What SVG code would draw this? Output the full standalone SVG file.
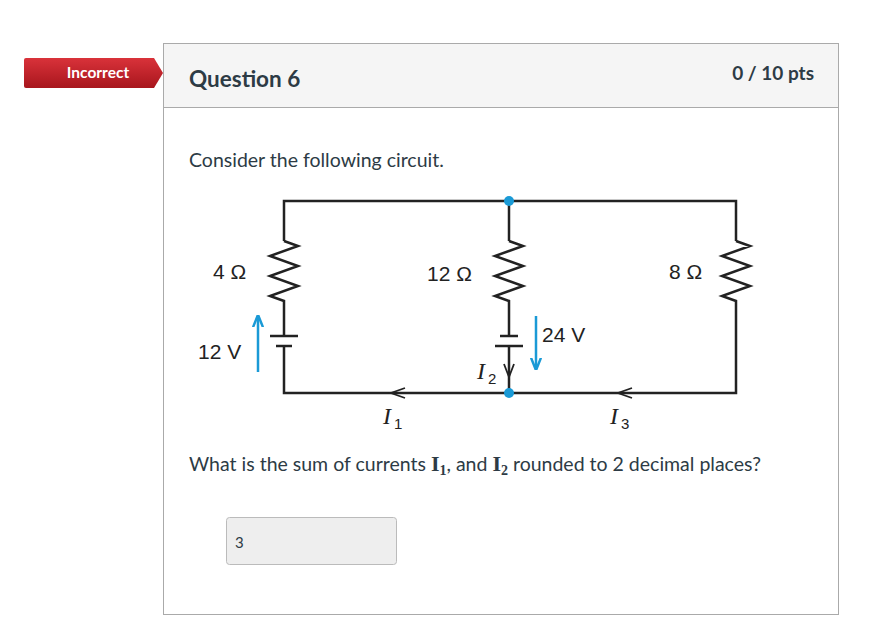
<svg xmlns="http://www.w3.org/2000/svg" width="890" height="632" viewBox="0 0 890 632">
<defs>
<linearGradient id="rg" x1="0" y1="0" x2="0" y2="1"><stop offset="0" stop-color="#d9323a"/><stop offset="1" stop-color="#a8161d"/></linearGradient>
<marker id="ba" viewBox="0 0 10 10" refX="9" refY="5" markerWidth="5" markerHeight="5" orient="auto"><path d="M0,1 L10,5 L0,9" fill="none" stroke="#1a9ad6" stroke-width="2"/></marker>
</defs>
<style>
.w{fill:none;stroke:#222;stroke-width:2.5;stroke-linejoin:miter}
.t{font-family:Lato,"Liberation Sans",sans-serif;fill:#2d3b45}
.c{font-family:"Liberation Sans",Arial,sans-serif;fill:#222;font-size:21px}
.i{font-family:"Liberation Serif",serif;font-style:italic;fill:#222;font-size:24px}
.s{font-family:"Liberation Sans",sans-serif;fill:#222;font-size:15px}
.b{stroke:#1a9ad6;stroke-width:2.5;fill:none}
</style>
<rect width="890" height="632" fill="#fff"/>
<g id="card">
<rect x="163.5" y="43.5" width="675" height="571" fill="#fff" stroke="#aaa"/>
<rect x="164" y="44" width="674" height="63" fill="#f5f5f5"/>
<line x1="163" y1="107.5" x2="839" y2="107.5" stroke="#aaa"/>
<text x="189" y="87" class="t" font-size="22.5" font-weight="bold">Question 6</text>
<text x="814" y="80" class="t" font-size="19" font-weight="bold" text-anchor="end">0 / 10 pts</text>
</g>
<g id="badge">
<path d="M26,58 H154 L163,73 L154,88 H26 Q24,88 24,86 V60 Q24,58 26,58 Z" fill="url(#rg)"/>
<text x="98" y="78" font-family="Lato,'Liberation Sans',sans-serif" font-size="15.5" font-weight="bold" fill="#fff" text-anchor="middle">Incorrect</text>
</g>
<text x="189" y="167" class="t" font-size="19.5">Consider the following circuit.</text>
<g id="connectors">
<path class="w" d="M284,241 V201 H736 V241"/>
<path class="w" d="M509,201 V241"/>
<path class="w" d="M284,241 l14,5 l-28,10 l28,10 l-28,10 l28,10 l-28,10 l14,5 V336"/>
<path class="w" d="M509,241 l14,5 l-28,10 l28,10 l-28,10 l28,10 l-28,10 l14,5 V336"/>
<path class="w" d="M736,241 l14,5 l-28,10 l28,10 l-28,10 l28,10 l-28,10 l14,5 V393 H284 V346"/>
<line class="w" x1="270" y1="336" x2="298" y2="336"/>
<line class="w" x1="276" y1="346" x2="292" y2="346"/>
<line class="w" x1="500" y1="336" x2="518" y2="336"/>
<line class="w" x1="495" y1="346" x2="523" y2="346"/>
<path class="w" d="M509,346 V393"/>
<path fill="none" stroke="#222" stroke-width="1.8" d="M504,364 L509,377 L514,364"/>
<path fill="none" stroke="#222" stroke-width="1.8" d="M405,388 L391,393 L405,398"/>
<path fill="none" stroke="#222" stroke-width="1.8" d="M632,388 L618,393 L632,398"/>
<line class="b" x1="258" y1="372" x2="258" y2="316" marker-end="url(#ba)"/>
<line class="b" x1="536" y1="316" x2="536" y2="369" marker-end="url(#ba)"/>
</g>
<g id="nodes">
<circle cx="509" cy="201" r="5" fill="#1a9ad6"/>
<circle cx="509" cy="393" r="5" fill="#1a9ad6"/>
</g>
<g id="labels">
<text x="213" y="279" class="c">4 Ω</text>
<text x="427" y="281" class="c">12 Ω</text>
<text x="669" y="279" class="c">8 Ω</text>
<text x="198" y="359" class="c">12 V</text>
<text x="542" y="342" class="c">24 V</text>
<text x="477" y="379" class="i">I</text><text x="488" y="384" class="s">2</text>
<text x="383" y="424" class="i">I</text><text x="394" y="429" class="s">1</text>
<text x="610" y="424" class="i">I</text><text x="621" y="429" class="s">3</text>
</g>
<text x="189" y="471" class="t" font-size="19.5">What is the sum of currents <tspan font-family="'Liberation Serif',serif" font-weight="bold" font-size="22">I</tspan><tspan font-family="'Liberation Serif',serif" font-weight="bold" font-size="14" dy="4">1</tspan><tspan dy="-4">, and </tspan><tspan font-family="'Liberation Serif',serif" font-weight="bold" font-size="22">I</tspan><tspan font-family="'Liberation Serif',serif" font-weight="bold" font-size="14" dy="4">2</tspan><tspan dy="-4"> rounded to 2 decimal places?</tspan></text>
<g id="answer">
<rect x="226.5" y="517.5" width="170" height="47" rx="3" fill="#eee" stroke="#bbb"/>
<text x="235" y="548" class="t" font-size="15">3</text>
</g>
</svg>
